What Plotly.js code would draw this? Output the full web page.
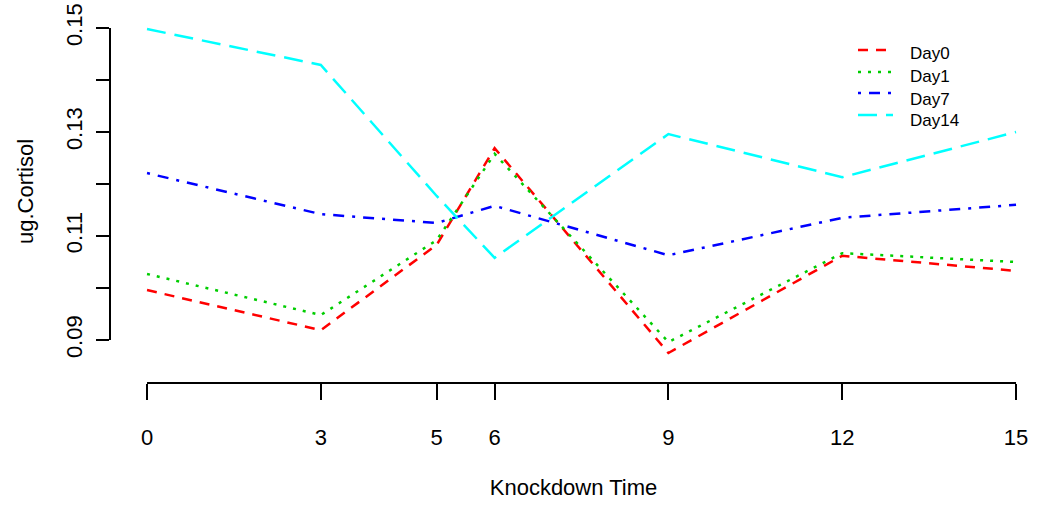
<!DOCTYPE html>
<html>
<head>
<meta charset="utf-8">
<script src="https://cdn.plot.ly/plotly-3.0.1.min.js"></script>
<style>html,body{margin:0;padding:0;background:#fff;}#chart{width:1037px;height:505px;}</style>
</head>
<body>
<div id="chart"></div>
<script>
const times = [0, 3, 5, 6, 9, 12, 15];
const day0  = [0.0996, 0.0919, 0.1083, 0.1269, 0.0875, 0.1062, 0.1033];
const day1  = [0.1027, 0.0948, 0.1092, 0.1258, 0.0896, 0.1067, 0.1050];
const day7  = [0.1221, 0.1142, 0.1125, 0.1158, 0.1063, 0.1135, 0.1160];
const day14 = [0.1498, 0.1429, 0.1177, 0.1058, 0.1296, 0.1213, 0.1300];
const seriesNames = ["Day0", "Day1", "Day7", "Day14"];
const yTicks = [0.09, 0.10, 0.11, 0.12, 0.13, 0.14, 0.15];
const yTickText = ["0.09", "", "0.11", "", "0.13", "", "0.15"];
const xTitle = "Knockdown Time";
const yTitle = "ug.Cortisol";

const styles = [
  {color: "#FF0000", dash: "10px,8px"},
  {color: "#00CD00", dash: "3px,7px"},
  {color: "#0000FF", dash: "3px,8px,11px,8px"},
  {color: "#00FFFF", dash: "19px,9px"}
];
const data = [day0, day1, day7, day14].map((ys, i) => ({
  type: "scatter", mode: "lines", x: times, y: ys, name: seriesNames[i],
  showlegend: false,
  line: {color: styles[i].color, dash: styles[i].dash, width: 2.5}
}));

// plot area in pixels: left 110, width 927, top 0, height 383
const PL = 110, PW = 927, PH = 383;
const px2x = p => (p - PL) / PW;
const px2y = p => 1 - p / PH;
const legLineY = [50, 72, 93, 115];
const legTextY = [53, 76, 99, 120];
const legendShapes = seriesNames.map((n, i) => ({
  type: "line", xref: "paper", yref: "paper",
  x0: px2x(858), x1: px2x(893), y0: px2y(legLineY[i]), y1: px2y(legLineY[i]),
  line: {color: styles[i].color, dash: styles[i].dash, width: 2.5}
}));
const legendAnn = seriesNames.map((n, i) => ({
  xref: "paper", yref: "paper", x: px2x(908), y: px2y(legTextY[i]),
  xanchor: "left", yanchor: "middle", showarrow: false, text: n,
  font: {family: "Liberation Sans, Arial, sans-serif", size: 17, color: "#000"}
}));

const font = {family: "Liberation Sans, Arial, sans-serif", size: 22, color: "#000"};
const layout = {
  width: 1037, height: 505,
  margin: {l: PL, r: 0, t: 0, b: 505 - PH},
  paper_bgcolor: "#fff", plot_bgcolor: "#fff",
  font: font,
  showlegend: false,
  xaxis: {range: [-0.639, 15.362], tickvals: times, ticktext: times.map(String),
          ticks: "outside", ticklen: 16, tickwidth: 2, tickcolor: "#000",
          showgrid: false, zeroline: false, showline: false,
          ticklabelstandoff: 19, tickfont: font,
          title: {text: xTitle, font: font, standoff: 30}},
  yaxis: {range: [0.081731, 0.155385], tickvals: yTicks, ticktext: yTickText,
          ticks: "outside", ticklen: 13, tickwidth: 2, tickcolor: "#000",
          showgrid: false, zeroline: false, showline: false,
          tickangle: -90, ticklabelstandoff: 5, tickfont: font,
          title: {text: yTitle, font: font, standoff: 22}},
  shapes: [
    {type: "line", xref: "x", yref: "paper", x0: 0, x1: 15, y0: 0, y1: 0, line: {color: "#000", width: 2}},
    {type: "line", xref: "paper", yref: "y", x0: 0, x1: 0, y0: 0.09, y1: 0.15, line: {color: "#000", width: 2}}
  ].concat(legendShapes),
  annotations: legendAnn
};
Plotly.newPlot("chart", data, layout, {displayModeBar: false, staticPlot: true});
</script>
</body>
</html>
